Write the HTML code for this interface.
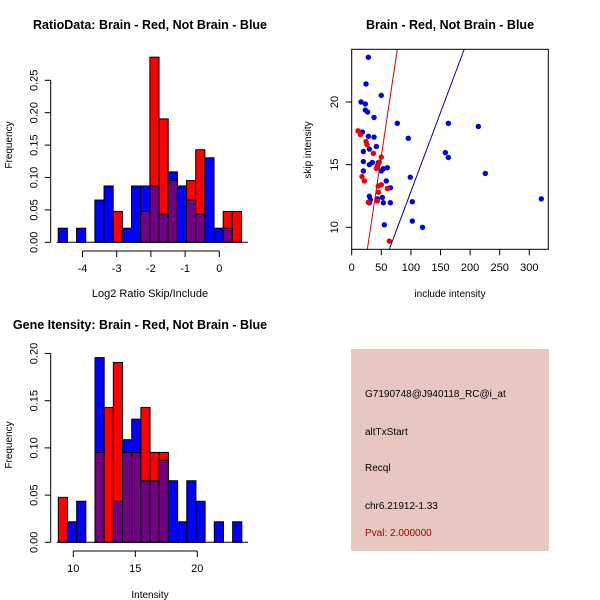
<!DOCTYPE html>
<html><head><meta charset="utf-8"><style>
body{margin:0;background:#fff;}
svg{display:block;font-family:"Liberation Sans",sans-serif;}
.t{font-weight:bold;font-size:12.5px;}
.a{font-size:11px;}
.s{font-size:10px;}
</style></head><body>
<svg id="c" width="600" height="600" xmlns="http://www.w3.org/2000/svg">
<rect width="600" height="600" fill="#fff"/>
</svg>
<script>
// ---- data ----
const ratioBreakStart = -4.71, ratioBinWidth = 0.268;
const ratioBlueCounts = [1,0,1,0,3,4,0,1,4,4,4,2,5,4,3,2,6,1,1,0];
const ratioRedCounts  = [0,0,0,0,0,0,1,0,0,1,6,4,2,0,2,3,0,0,1,1];
const ratioXTicks = [-4,-3,-2,-1,0];
const ratioYTicks = [0,0.05,0.10,0.15,0.20,0.25];
const intBreakStart = 8.79, intBinWidth = 0.74;
const intBlueCounts = [0,1,2,0,9,0,2,5,6,3,3,4,3,1,3,2,0,1,0,1];
const intRedCounts  = [1,0,0,0,2,3,4,2,2,3,2,2,0,0,0,0,0,0,0,0];
const intXTicks = [10,15,20];
const intYTicks = [0,0.05,0.10,0.15,0.20];
const blueN = 46, redN = 21;
const scatXTicks = [0,50,100,150,200,250,300];
const scatYTicks = [10,15,20];
const blueInclude = [28.1,24.2,50,15.7,23,23,26.9,37.7,77,163.3,213.9,18,28.1,37.7,95.6,41.6,29.8,19.7,158.2,163.3,19.7,45,34.8,29.8,60.2,53.4,50,19.7,225.7,99,58.4,65.3,29.8,51.7,43.3,31.5,29.8,53.4,65.3,102.4,320.3,102.4,55.1,119.6];
const blueSkip = [23.57,21.44,20.53,20,19.84,19.36,19.2,18.77,18.3,18.3,18.05,17.6,17.26,17.2,17.1,16.45,16.24,16.05,15.96,15.57,15.25,15.17,15.17,15,14.76,14.68,14.5,14.5,14.3,14,13.7,13.15,12.48,12.38,12.27,12.2,11.96,11.96,11.96,12.04,12.27,10.5,10.2,10];
const redInclude = [10.6,14.6,24.2,25.8,36.6,50,46.7,43.3,41.6,17.4,21.3,45,50,60.2,45,43.3,28.1,63.6];
const redSkip = [17.7,17.4,16.85,16.6,15.9,15.6,15.2,14.9,14.7,14.05,13.7,13.3,13.4,13.1,12.8,12.1,12,8.9];
const redLine = [[26.4,8.24],[77,24.2]];
const blueLine = [[63.5,8.24],[190,24.2]];

const svg = document.getElementById('c');
const NS = 'http://www.w3.org/2000/svg';
function mk(tag, at, txt){const e=document.createElementNS(NS,tag);for(const k in at)e.setAttribute(k,at[k]);if(txt!==undefined)e.textContent=txt;svg.appendChild(e);return e;}

function hist(o){
  const sx=v=>o.x0+(v-o.xv0)*o.xs, sy=v=>o.y0-v*o.ys;
  const n=o.blue.length;
  for(let i=0;i<n;i++){
    const a=o.start+i*o.w, b=a+o.w;
    const fb=o.blue[i]/blueN, fr=o.red[i]/redN;
    const lo=Math.min(fb,fr), hi=Math.max(fb,fr);
    if(hi>0){
      const r=mk('rect',{x:sx(a),y:sy(hi),width:sx(b)-sx(a),height:sy(0)-sy(hi),fill:fb>fr?'#0000ff':'#ff0000',stroke:'#000','stroke-width':1});
      
      
    }
    if(lo>0){
      const p=mk('rect',{x:sx(a),y:sy(lo),width:sx(b)-sx(a),height:sy(0)-sy(lo),fill:'#720082',stroke:'#000','stroke-width':1});
      
      
    }
  }
  // y axis
  const yt=o.yticks;
  mk('line',{x1:o.yax,y1:sy(yt[0]),x2:o.yax,y2:sy(yt[yt.length-1]),stroke:'#000',});
  yt.forEach(v=>{mk('line',{x1:o.yax-6,y1:sy(v),x2:o.yax,y2:sy(v),stroke:'#000'});
    const t=mk('text',{x:o.yax-13,y:sy(v),'text-anchor':'middle',class:'a',transform:`rotate(-90 ${o.yax-13} ${sy(v)})`},v.toFixed(2));
    });
  const xt=o.xticks;
  mk('line',{x1:sx(xt[0]),y1:o.xax,x2:sx(xt[xt.length-1]),y2:o.xax,stroke:'#000',});
  xt.forEach(v=>{mk('line',{x1:sx(v),y1:o.xax,x2:sx(v),y2:o.xax+6,stroke:'#000'});
    const t=mk('text',{x:sx(v),y:o.xax+21,'text-anchor':'middle',class:'a'},String(v));
    });
  // base line
  mk('line',{x1:o.yax+6,y1:o.y0,x2:o.baseEnd,y2:o.y0,stroke:'#000'});
}
hist({id:'ratio',start:ratioBreakStart,w:ratioBinWidth,blue:ratioBlueCounts,red:ratioRedCounts,
  x0:219.3,xv0:0,xs:34.2,y0:242.3,ys:648,yax:50.7,xax:251,xticks:ratioXTicks,yticks:ratioYTicks,baseEnd:248});
hist({id:'intensity',start:intBreakStart,w:intBinWidth,blue:intBlueCounts,red:intRedCounts,
  x0:73.3,xv0:10,xs:12.4,y0:542.3,ys:944,yax:50.7,xax:551,xticks:intXTicks,yticks:intYTicks,baseEnd:248});

// scatter
const px=v=>351.7+v*29.6/50, py=v=>102+(20-v)*12.53;
mk('rect',{x:351.7,y:49.3,width:196.6,height:200,fill:'none',stroke:'#000',});
scatXTicks.forEach(v=>{mk('line',{x1:px(v),y1:249.3,x2:px(v),y2:255.3,stroke:'#000'});
  const t=mk('text',{x:px(v),y:271,'text-anchor':'middle',class:'a'},String(v));
  });
scatYTicks.forEach(v=>{mk('line',{x1:345.7,y1:py(v),x2:351.7,y2:py(v),stroke:'#000'});
  const t=mk('text',{x:338,y:py(v),'text-anchor':'middle',class:'a',transform:`rotate(-90 338 ${py(v)})`},String(v));
  });
const defsClip=mk('clipPath',{id:'cl'});defsClip.appendChild(document.createElementNS(NS,'rect'));
const cr=defsClip.firstChild;cr.setAttribute('x',351.7);cr.setAttribute('y',49.3);cr.setAttribute('width',196.6);cr.setAttribute('height',200);
blueInclude.forEach((v,i)=>{const c=mk('circle',{cx:px(v),cy:py(blueSkip[i]),r:2.7,fill:'#0000dd'});
  });
redInclude.forEach((v,i)=>{const c=mk('circle',{cx:px(v),cy:py(redSkip[i]),r:2.7,fill:'#ee0000'});
  });
const rl=mk('line',{x1:px(redLine[0][0]),y1:py(redLine[0][1]),x2:px(redLine[1][0]),y2:py(redLine[1][1]),stroke:'#dd0000','stroke-width':1,'clip-path':'url(#cl)'});

const bl=mk('line',{x1:px(blueLine[0][0]),y1:py(blueLine[0][1]),x2:px(blueLine[1][0]),y2:py(blueLine[1][1]),stroke:'#0000aa','stroke-width':1,'clip-path':'url(#cl)'});

</script>
<svg style="position:absolute;left:0;top:0" width="600" height="600">
<text x="150" y="29" text-anchor="middle" class="t">RatioData: Brain - Red, Not Brain - Blue</text>
<text x="150" y="297" text-anchor="middle" class="a">Log2 Ratio Skip/Include</text>
<text x="12" y="145" text-anchor="middle" class="s" transform="rotate(-90 12 145)">Frequency</text>
<text x="450" y="29" text-anchor="middle" class="t">Brain - Red, Not Brain - Blue</text>
<text x="450" y="297" text-anchor="middle" class="s">include intensity</text>
<text x="311" y="150" text-anchor="middle" class="s" transform="rotate(-90 311 150)">skip intensity</text>
<text x="140" y="329" text-anchor="middle" class="t">Gene Itensity: Brain - Red, Not Brain - Blue</text>
<text x="150" y="598" text-anchor="middle" class="s">Intensity</text>
<text x="12" y="445" text-anchor="middle" class="s" transform="rotate(-90 12 445)">Frequency</text>
<rect x="351" y="349" width="198" height="202" fill="#e6c8c1"/>
<text x="365" y="397" class="s">G7190748@J940118_RC@i_at</text>
<text x="365" y="435" class="s">altTxStart</text>
<text x="365" y="471" class="s">Recql</text>
<text x="365" y="509" class="s">chr6.21912-1.33</text>
<text x="365" y="536" class="s" fill="#aa0000">Pval: 2.000000</text>
</svg>
</body></html>
